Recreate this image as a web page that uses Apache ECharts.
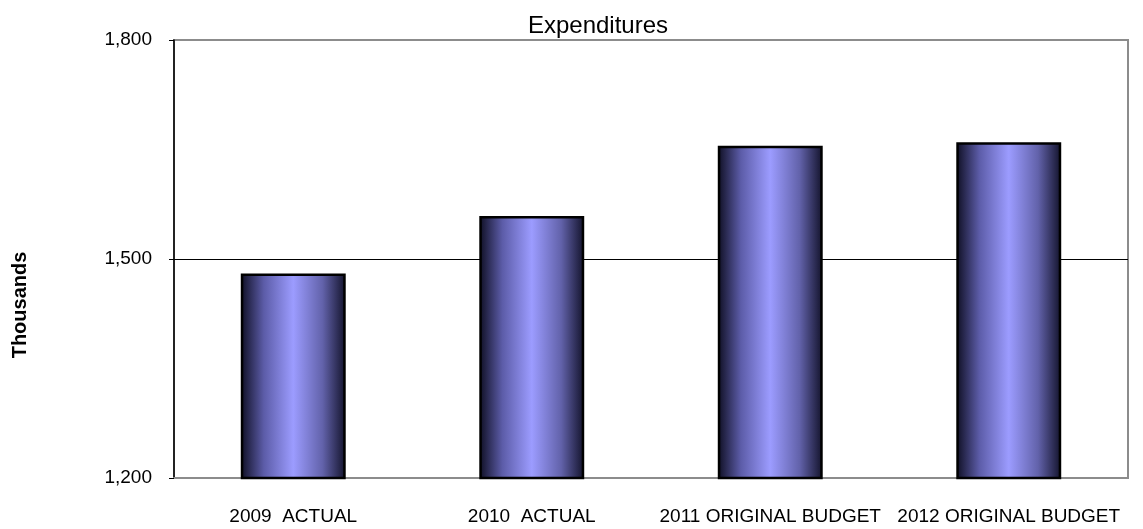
<!DOCTYPE html>
<html>
<head>
<meta charset="utf-8">
<script src="https://cdn.jsdelivr.net/npm/echarts@6/dist/echarts.min.js"></script>
<style>
  html, body { margin: 0; padding: 0; background: #fff; }
  #chart { width: 1143px; height: 529px; }
</style>
</head>
<body>
<div id="chart"></div>
<script>
const categories = ['2009  ACTUAL', '2010  ACTUAL', '2011 ORIGINAL BUDGET', '2012 ORIGINAL BUDGET']
const expenditures = [1480, 1559, 1655, 1660]
const yMin = 1200
const yMax = 1800
const yStep = 300

const chart = echarts.init(document.getElementById('chart'))

// horizontal shading on each bar: dark edges, light centre
const barFill = new echarts.graphic.LinearGradient(0, 0, 1, 0, [
  { offset: 0, color: '#0e0e22' },
  { offset: 0.22, color: '#5c5ca8' },
  { offset: 0.5, color: '#9c9cff' },
  { offset: 0.78, color: '#6262aa' },
  { offset: 1, color: '#12122a' },
])

chart.setOption({
  backgroundColor: '#fff',
  animation: false,
  title: {
    text: 'Expenditures',
    left: 593,
    top: 9,
    textAlign: 'center',
    textStyle: { fontFamily: 'Liberation Sans', fontSize: 24, fontWeight: 'normal', color: '#000' },
  },
  graphic: [{
    type: 'text',
    x: 20,
    y: 305,
    rotation: Math.PI / 2,
    style: {
      text: 'Thousands',
      fontFamily: 'Liberation Sans',
      fontSize: 20,
      fontWeight: 'bold',
      fill: '#000',
      align: 'center',
      verticalAlign: 'middle',
    },
  }],
  grid: { left: 174, right: 15, top: 40, bottom: 51, show: true, borderColor: '#8c8c8c', borderWidth: 2 },
  xAxis: {
    type: 'category',
    data: categories,
    axisLine: { lineStyle: { color: '#8c8c8c', width: 2 } },
    axisTick: { show: false },
    axisLabel: { color: '#000', fontFamily: 'Liberation Sans', fontSize: 19, margin: 29, interval: 0 },
  },
  yAxis: {
    type: 'value',
    min: yMin,
    max: yMax,
    interval: yStep,
    axisLine: { show: true, lineStyle: { color: '#000', width: 1.5 } },
    axisTick: { show: true, length: 5, lineStyle: { color: '#000' } },
    axisLabel: {
      color: '#000', fontFamily: 'Liberation Sans', fontSize: 19, margin: 22,
      formatter: v => v.toLocaleString('en-US'),
    },
    splitLine: { show: true, lineStyle: { color: ['#8c8c8c', '#000', '#8c8c8c'], width: 1 } },
  },
  series: [{
    type: 'bar',
    data: expenditures,
    barWidth: '44%',
    itemStyle: { color: barFill, borderColor: '#000', borderWidth: 2.5 },
  }],
})
</script>
</body>
</html>
